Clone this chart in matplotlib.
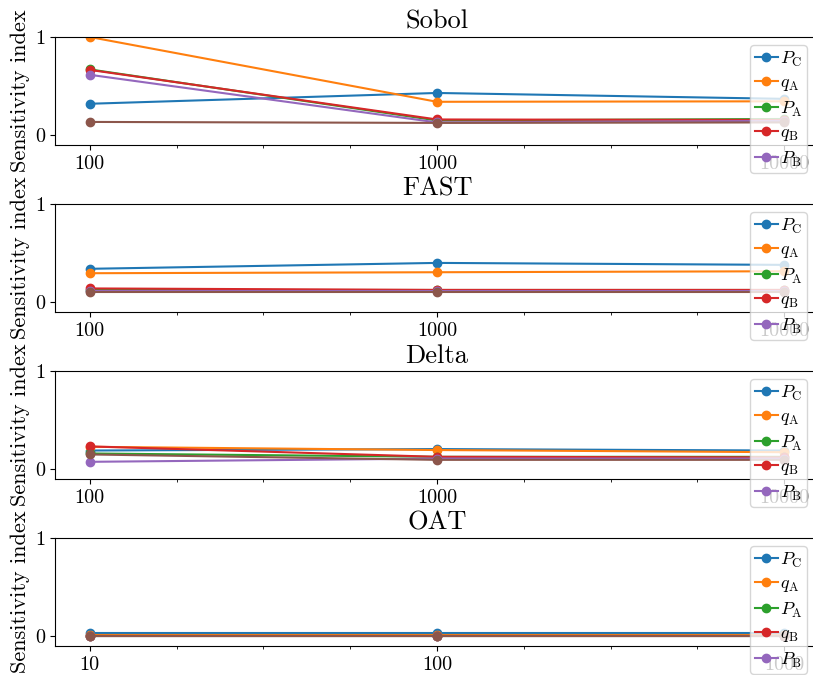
import matplotlib
matplotlib.use("Agg")
import numpy as np
import matplotlib.pyplot as plt
from matplotlib.ticker import FixedLocator, NullFormatter

plt.rcParams["font.family"] = "serif"
plt.rcParams["font.serif"] = ["cmr10", "DejaVu Serif"]
plt.rcParams["mathtext.fontset"] = "cm"
plt.rcParams["axes.formatter.use_mathtext"] = True
plt.rcParams["axes.unicode_minus"] = False

# Sample sizes per method
samples_main = [100, 1000, 10000]
samples_oat = [10, 100, 1000]

labels = [r"$P_\mathrm{C}$", r"$q_\mathrm{A}$", r"$P_\mathrm{A}$",
          r"$q_\mathrm{B}$", r"$P_\mathrm{B}$"]

# Sensitivity indices, one list per parameter (last one unlabelled)
sobol_PC = [0.32, 0.43, 0.37]
sobol_qA = [1.00, 0.34, 0.345]
sobol_PA = [0.67, 0.15, 0.165]
sobol_qB = [0.665, 0.16, 0.155]
sobol_PB = [0.615, 0.13, 0.145]
sobol_x6 = [0.135, 0.125, 0.13]

fast_PC = [0.34, 0.40, 0.38]
fast_qA = [0.295, 0.305, 0.315]
fast_PA = [0.125, 0.125, 0.125]
fast_qB = [0.14, 0.125, 0.125]
fast_PB = [0.115, 0.115, 0.115]
fast_x6 = [0.105, 0.105, 0.105]

delta_PC = [0.19, 0.205, 0.19]
delta_qA = [0.228, 0.195, 0.173]
delta_PA = [0.16, 0.126, 0.126]
delta_qB = [0.232, 0.126, 0.12]
delta_PB = [0.075, 0.108, 0.108]
delta_x6 = [0.15, 0.095, 0.095]

oat_PC = [0.03, 0.03, 0.03]
oat_qA = [0.01, 0.01, 0.01]
oat_PA = [0.005, 0.005, 0.005]
oat_qB = [0.0, 0.0, 0.0]
oat_PB = [0.0, 0.0, 0.0]
oat_x6 = [0.0, 0.0, 0.0]

panels = [
    ("Sobol", samples_main, [sobol_PC, sobol_qA, sobol_PA, sobol_qB, sobol_PB, sobol_x6]),
    ("FAST", samples_main, [fast_PC, fast_qA, fast_PA, fast_qB, fast_PB, fast_x6]),
    ("Delta", samples_main, [delta_PC, delta_qA, delta_PA, delta_qB, delta_PB, delta_x6]),
    ("OAT", samples_oat, [oat_PC, oat_qA, oat_PA, oat_qB, oat_PB, oat_x6]),
]

W, H = 813, 675
fig = plt.figure(figsize=(W / 100, H / 100), dpi=100)

left_px, right_px = 55, 819
tops_px = [37, 204, 371, 538]
height_px = 108
width_px = right_px - left_px

for (title, xs, series), top in zip(panels, tops_px):
    ax = fig.add_axes([left_px / W, 1 - (top + height_px) / H,
                       width_px / W, height_px / H])
    for i, ys in enumerate(series):
        lab = labels[i] if i < len(labels) else "_nolegend_"
        ax.plot(xs, ys, marker="o", color=f"C{i}", label=lab,
                linewidth=1.5, markersize=6)
    ax.set_xscale("log")
    lo, hi = np.log10(xs[0]), np.log10(xs[-1])
    ax.set_xlim(10 ** (lo - 0.1), 10 ** (hi + 0.1))
    ax.xaxis.set_major_locator(FixedLocator(xs))
    ax.set_xticklabels([str(v) for v in xs])
    minors = [10 ** (lo + k * 0.25) for k in range(int(round((hi - lo) * 4)) + 1)
              if k % 4 != 0]
    ax.xaxis.set_minor_locator(FixedLocator(minors))
    ax.xaxis.set_minor_formatter(NullFormatter())
    ax.set_ylim(-0.1, 1.0)
    ax.set_yticks([0, 1])
    ax.set_yticklabels(["0", "1"])
    ax.tick_params(axis="both", labelsize=14.5)
    ax.set_title(title, fontsize=19)
    ax.set_ylabel("Sensitivity index", fontsize=16)
    ax.legend(loc="upper right",
              bbox_to_anchor=((807 - left_px) / width_px, (height_px - 8) / height_px),
              borderaxespad=0, fontsize=13, handlelength=1.3,
              handletextpad=0.1, borderpad=0.25, labelspacing=0.34)

fig.savefig("out.png", dpi=100)
